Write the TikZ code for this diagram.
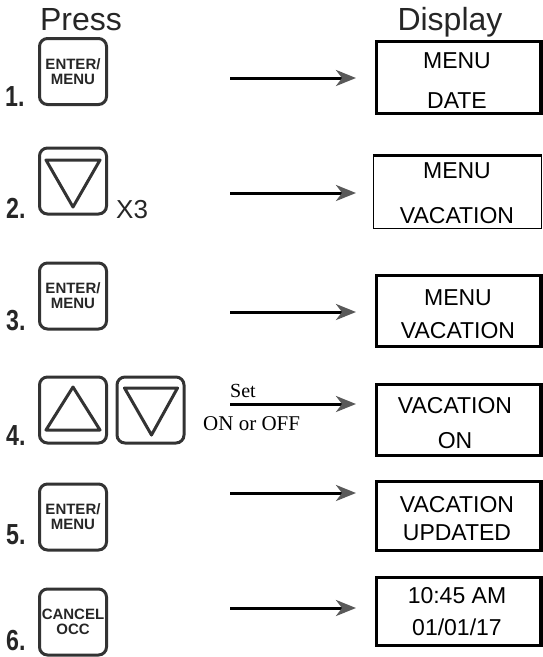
\documentclass[tikz,border=0pt]{standalone}
\usepackage{fontspec}
\usepackage{graphicx}
\setmainfont{Liberation Sans}
\newfontfamily\timesfont{Liberation Serif}
\usetikzlibrary{arrows.meta}
\tikzset{
  btn/.style={draw=black!80, line width=3pt, rounded corners=8pt, minimum width=67pt, minimum height=66pt, inner sep=0pt, align=center, font=\bfseries\fontsize{15}{15}\selectfont, text=black!85},
  disp/.style={draw=black, line width=3.2pt, minimum width=164.5pt, inner sep=0pt},
  dtxt/.style={anchor=base, inner sep=0pt, font=\fontsize{23}{23}\selectfont},
  num/.style={anchor=base west, inner sep=0pt, font=\bfseries\fontsize{29}{29}\selectfont, text=black!85},
  title/.style={anchor=base, inner sep=0pt, font=\fontsize{32}{32}\selectfont, text=black!85},
  tri/.style={draw=black!80, line width=3pt, line join=round},
  conn/.style={line width=3pt, -{Stealth[length=20pt, width=16pt, inset=6pt, color=black!65]}},
}
\newcommand{\nm}[1]{\scalebox{0.8}[1]{#1}}
\begin{document}
\begin{tikzpicture}[x=1pt, y=-1pt]
\useasboundingbox (0,0) rectangle (543,657);
% titles
\node[title] (tp) at (81,30) {Press};
\node[title] (td) at (450,30) {Display};
% numbers
\node[num] (n1) at (5,106) {\nm{1.}};
\node[num] (n2) at (6,218) {\nm{2.}};
\node[num] (n3) at (6,330) {\nm{3.}};
\node[num] (n4) at (6,445) {\nm{4.}};
\node[num] (n5) at (6,544) {\nm{5.}};
\node[num] (n6) at (6,650) {\nm{6.}};
% buttons
\node[btn] (b1) at (73,71.5) {ENTER/\\MENU};
\node[btn] (b2) at (73,181) {};
\node[btn] (b3) at (73,296) {ENTER/\\MENU};
\node[btn] (b4a) at (73,410) {};
\node[btn] (b4b) at (150.5,410) {};
\node[btn] (b5) at (73,517) {ENTER/\\MENU};
\node[btn] (b6) at (73,622) {CANCEL\\OCC};
\draw[tri] ([shift={(-27,-21)}]b2.center) -- ([shift={(27,-21)}]b2.center) -- ([shift={(0,26)}]b2.center) -- cycle;
\draw[tri] ([shift={(0,-23)}]b4a.center) -- ([shift={(27,20)}]b4a.center) -- ([shift={(-27,20)}]b4a.center) -- cycle;
\draw[tri] ([shift={(-26,-22)}]b4b.center) -- ([shift={(27,-22)}]b4b.center) -- ([shift={(1,25)}]b4b.center) -- cycle;
\node[anchor=base west, inner sep=0pt, font=\fontsize{26}{26}\selectfont, text=black!85] (x3) at (116,218) {X3};
% displays
\node[disp, minimum height=72pt] (d1) at (458.75,77.5) {};
\node[disp, line width=1.5pt, minimum width=167.75pt, minimum height=72.5pt] (d2) at (457.6,192) {};
\draw[line width=3pt] (d2.north west) -- (d2.north east);
\node[disp, minimum height=71pt] (d3) at (458.75,311) {};
\node[disp, minimum height=71pt] (d4) at (458.75,420) {};
\node[disp, minimum height=69pt] (d5) at (458.75,516) {};
\node[disp, minimum height=68pt] (d6) at (458.75,611.5) {};
\node[dtxt] (d1a) at (457,68) {MENU};
\node[dtxt] (d1b) at (457,108) {DATE};
\node[dtxt] (d2a) at (457,178) {MENU};
\node[dtxt] (d2b) at (457,223) {VACATION};
\node[dtxt] (d3a) at (458,305) {MENU};
\node[dtxt] (d3b) at (458,338) {VACATION};
\node[dtxt] (d4a) at (455,413) {VACATION};
\node[dtxt] (d4b) at (455,448) {ON};
\node[dtxt] (d5a) at (457,512) {VACATION};
\node[dtxt] (d5b) at (457,540) {UPDATED};
\node[dtxt] (d6a) at (457,603) {10:45 AM};
\node[dtxt] (d6b) at (457,635) {01/01/17};
% arrows
\foreach \i/\y in {1/78,2/193,3/312,4/404,5/493,6/608}{
  \coordinate (s\i) at (230,\y);
  \coordinate (e\i) at (356,\y);
  \draw[conn] (s\i) -- (e\i);
}
\node[anchor=base west, inner sep=0pt, font=\timesfont\fontsize{20}{20}\selectfont] (set) at (230,397) {Set};
\node[anchor=base west, inner sep=0pt, font=\timesfont\fontsize{21}{21}\selectfont] (onoff) at (203,430) {ON or OFF};
\end{tikzpicture}
\end{document}
